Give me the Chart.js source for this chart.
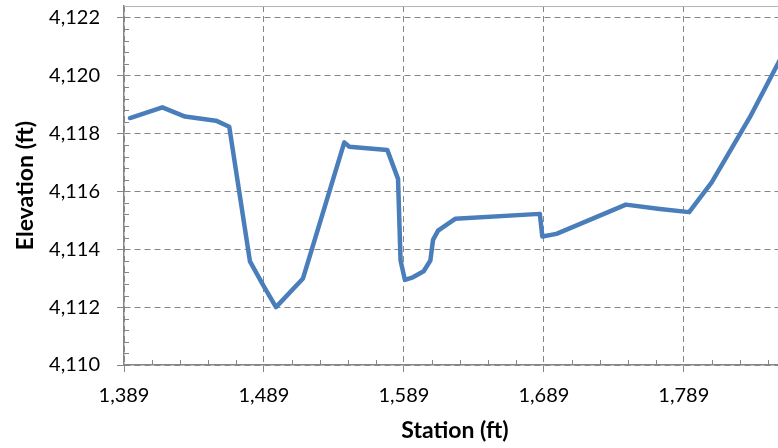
<!DOCTYPE html>
<html>
<head>
<meta charset="utf-8">
<script src="https://cdn.jsdelivr.net/npm/chart.js@4/dist/chart.umd.min.js"></script>
<style>
  html, body { margin: 0; padding: 0; background: #fff; overflow: hidden; }
  body { width: 778px; height: 448px; }
  #wrap { width: 786px; height: 448px; position: relative; }
</style>
</head>
<body>
<div id="wrap"><canvas id="perfil"></canvas></div>
<script>
// ---------- dados ----------
const stationFt = [
  1393.3, 1416.4, 1432.6, 1454.7, 1464.2, 1479.0, 1488.5, 1497.6, 1516.9,
  1546.4, 1550.0, 1577.1, 1584.8, 1586.6, 1589.7, 1595.4, 1603.1, 1607.9,
  1609.8, 1613.4, 1625.6, 1686.1, 1687.9, 1698.0, 1747.6, 1771.9, 1792.8,
  1808.9, 1836.1, 1856.0, 1866.0
];
const elevationFt = [
  4118.53, 4118.90, 4118.58, 4118.44, 4118.23, 4113.58, 4112.75, 4112.00, 4112.99,
  4117.69, 4117.54, 4117.43, 4116.43, 4113.61, 4112.94, 4113.03, 4113.24, 4113.61,
  4114.32, 4114.64, 4115.05, 4115.22, 4114.44, 4114.53, 4115.54, 4115.39, 4115.28,
  4116.31, 4118.55, 4120.39, 4121.30
];
const stationTicks = [1389, 1489, 1589, 1689, 1789];
const elevationTicks = [4110, 4112, 4114, 4116, 4118, 4120, 4122];

const X_MIN = 1389, X_MAX = 1862, X_MINOR = 20;
const Y_MIN = 4110, Y_MAX = 4122.4, Y_MINOR = 0.4;

const GRID = "#868686";
const fmt = (v) => Number(v).toLocaleString("en-US");

// ticks menores + borda superior da área do gráfico
const minorTicks = {
  id: "minorTicks",
  afterDraw(chart) {
    const { ctx, chartArea: a, scales: { x, y } } = chart;
    ctx.save();
    ctx.strokeStyle = GRID;
    ctx.lineWidth = 1;
    ctx.beginPath();
    for (let i = 0; X_MIN + i * X_MINOR <= X_MAX; i++) {
      const v = X_MIN + i * X_MINOR;
      if (stationTicks.includes(v)) continue;
      const px = Math.round(x.getPixelForValue(v)) + 0.5;
      ctx.moveTo(px, a.bottom);
      ctx.lineTo(px, a.bottom - 5);
    }
    for (let i = 0; Y_MIN + i * Y_MINOR <= Y_MAX + 1e-6; i++) {
      const v = +(Y_MIN + i * Y_MINOR).toFixed(1);
      if (elevationTicks.includes(v)) continue;
      const py = Math.round(y.getPixelForValue(v)) + 0.5;
      ctx.moveTo(a.left, py);
      ctx.lineTo(a.left + 5, py);
    }
    ctx.stroke();
    ctx.strokeStyle = "#b4b4b4";
    ctx.beginPath();
    ctx.moveTo(a.left, Math.round(a.top) + 0.5);
    ctx.lineTo(a.right, Math.round(a.top) + 0.5);
    ctx.stroke();
    ctx.restore();
  }
};

const tickFont = { family: "Lato", size: 20 };
const titleFont = { family: "Lato", size: 23, weight: "bold" };

new Chart(document.getElementById("perfil"), {
  type: "scatter",
  data: {
    datasets: [{
      label: "Elevation",
      data: stationFt.map((s, i) => ({ x: s, y: elevationFt[i] })),
      showLine: true,
      borderColor: "#4A7EBB",
      borderWidth: 4.5,
      borderJoinStyle: "round",
      borderCapStyle: "round",
      pointRadius: 0,
      tension: 0
    }]
  },
  options: {
    responsive: true,
    maintainAspectRatio: false,
    animation: false,
    layout: { padding: { top: 6, left: 0, right: 0, bottom: 0 } },
    plugins: { legend: { display: false }, tooltip: { enabled: false } },
    scales: {
      x: {
        type: "linear",
        min: X_MIN,
        max: X_MAX,
        afterBuildTicks: (s) => { s.ticks = stationTicks.map(v => ({ value: v })); },
        afterFit: (s) => { s.height = 83; s.paddingLeft = 0; s.paddingRight = 0; },
        ticks: { font: tickFont, color: "#000", padding: 12, maxRotation: 0, callback: fmt },
        grid: { color: GRID, lineWidth: 1, tickLength: 7, tickColor: GRID },
        border: { display: true, color: GRID, width: 1.5, dash: [6, 4] },
        title: { display: true, text: "Station (ft)", font: titleFont, color: "#000", padding: { top: 0, bottom: 4 } }
      },
      y: {
        type: "linear",
        min: Y_MIN,
        max: Y_MAX,
        afterBuildTicks: (s) => { s.ticks = elevationTicks.map(v => ({ value: v })); },
        afterFit: (s) => { s.width = 124; s.paddingTop = 0; s.paddingBottom = 0; },
        ticks: { font: tickFont, color: "#000", padding: 17, callback: fmt },
        grid: { color: GRID, lineWidth: 1, tickLength: 7, tickColor: GRID },
        border: { display: true, color: GRID, width: 1.5, dash: [6, 4] },
        title: { display: true, text: "Elevation (ft)", font: titleFont, color: "#000", padding: { top: 12, bottom: 0 } }
      }
    }
  },
  plugins: [minorTicks]
});
</script>
</body>
</html>
